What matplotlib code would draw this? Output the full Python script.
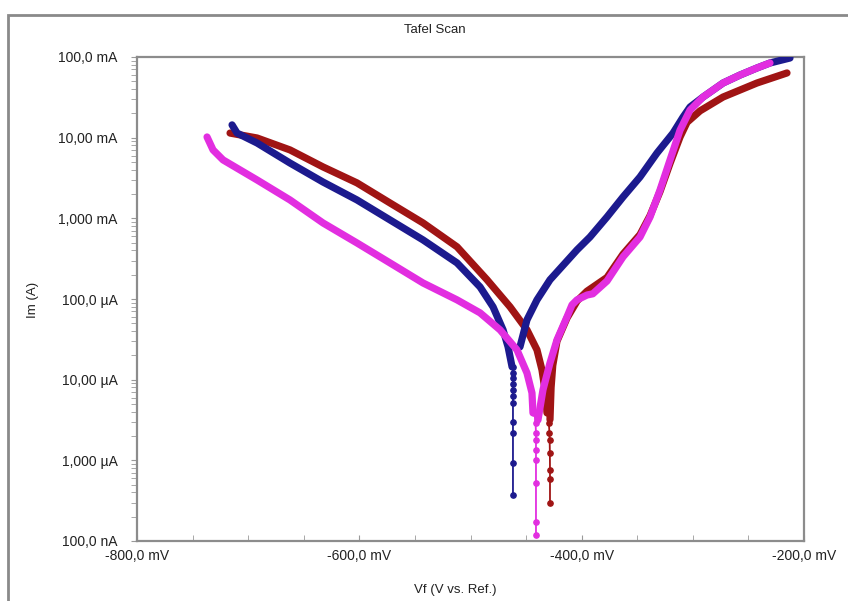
import matplotlib
matplotlib.use("Agg")
import matplotlib.pyplot as plt
from matplotlib.patches import Rectangle
from matplotlib.ticker import FixedLocator, MultipleLocator, LogLocator, NullFormatter
import numpy as np

plt.rcParams['font.family'] = ['Liberation Sans', 'DejaVu Sans']

# ---- data: potential in mV, current in A ----
# blue specimen
blue_cath_v = [-714.5, -710.0, -692.0, -662.4, -632.7, -602.1, -572.4, -542.7, -512.1,
               -491.4, -479.7, -470.7, -466.2, -462.6]
blue_cath_i = [1.44e-2, 1.14e-2, 8.59e-3, 4.85e-3, 2.82e-3, 1.69e-3, 9.55e-4, 5.40e-4, 2.80e-4,
               1.41e-4, 7.98e-5, 4.14e-5, 2.55e-5, 1.44e-5]
blue_tail_v = [-462.0, -461.8, -461.8, -461.8, -461.8, -461.8, -461.8, -461.8, -461.8, -461.8, -461.8]
blue_tail_i = [1.44e-5, 1.20e-5, 1.05e-5, 8.9e-6, 7.4e-6, 6.2e-6, 5.1e-6, 3.0e-6, 2.2e-6, 9.3e-7, 3.7e-7]
blue_anod_v = [-455.5, -449.2, -440.2, -428.5, -404.2, -392.5, -377.2, -362.8, -347.5, -332.2,
               -317.8, -308.8, -302.5, -290.8, -272.8, -257.5, -242.3, -230.6, -212.6]
blue_anod_i = [2.55e-5, 5.51e-5, 9.75e-5, 1.73e-4, 4.06e-4, 5.87e-4, 1.04e-3, 1.84e-3, 3.26e-3, 6.46e-3,
               1.14e-2, 1.80e-2, 2.40e-2, 3.19e-2, 4.76e-2, 5.98e-2, 7.31e-2, 8.43e-2, 9.72e-2]

# dark red specimen
red_cath_v = [-716.3, -692.0, -662.4, -632.7, -602.1, -572.4, -542.7, -512.1, -485.1,
              -464.4, -449.2, -440.2, -435.7, -433.0, -431.2]
red_cath_i = [1.14e-2, 9.91e-3, 7.05e-3, 4.34e-3, 2.75e-3, 1.55e-3, 8.77e-4, 4.43e-4, 1.73e-4,
              7.98e-5, 4.14e-5, 2.34e-5, 1.32e-5, 7.48e-6, 3.87e-6]
red_tail_v = [-430.5, -429.5, -429.0, -428.8, -428.6, -428.5, -428.5, -428.5]
red_tail_i = [3.87e-6, 2.9e-6, 2.2e-6, 1.8e-6, 1.23e-6, 7.6e-7, 5.8e-7, 2.95e-7]
red_anod_v = [-428.5, -427.5, -426.0, -422.2, -413.2, -404.0, -395.2, -377.2, -362.8, -347.5,
              -338.5, -329.5, -320.5, -311.5, -305.2, -293.5, -272.8, -242.3, -215.3]
red_anod_i = [3.2e-6, 8.0e-6, 1.5e-5, 3.0e-5, 5.8e-5, 9.5e-5, 1.25e-4, 1.85e-4, 3.6e-4, 6.3e-4,
              1.08e-3, 2.15e-3, 4.8e-3, 1.02e-2, 1.55e-2, 2.15e-2, 3.19e-2, 4.76e-2, 6.34e-2]

# magenta specimen
mag_cath_v = [-737.0, -731.6, -722.6, -692.0, -662.4, -632.7, -602.1, -572.4, -542.7, -512.1,
              -491.4, -473.4, -458.2, -449.2, -444.7, -443.8]
mag_cath_i = [1.02e-2, 7.05e-3, 5.30e-3, 2.99e-3, 1.69e-3, 8.77e-4, 4.95e-4, 2.80e-4, 1.58e-4, 9.75e-5,
              6.73e-5, 4.14e-5, 2.34e-5, 1.21e-5, 6.85e-6, 3.87e-6]
mag_tail_v = [-442.5, -441.5, -441.1, -441.1, -441.1, -441.1, -441.1, -441.1, -441.1]
mag_tail_i = [3.87e-6, 2.9e-6, 2.2e-6, 1.8e-6, 1.35e-6, 1.02e-6, 5.2e-7, 1.74e-7, 1.2e-7]
mag_anod_v = [-439.3, -434.8, -428.5, -422.2, -413.2, -408.7, -404.2, -395.2, -390.0, -377.2,
              -362.8, -347.5, -338.5, -329.5, -320.5, -311.5, -302.5, -290.8, -272.8, -257.5,
              -242.3, -230.6]
mag_anod_i = [3.16e-6, 7.48e-6, 1.61e-5, 3.11e-5, 6.00e-5, 8.45e-5, 9.75e-5, 1.12e-4, 1.16e-4, 1.67e-4,
              3.33e-4, 5.87e-4, 1.04e-3, 2.25e-3, 5.30e-3, 1.24e-2, 2.20e-2, 3.19e-2, 4.76e-2, 5.98e-2,
              7.31e-2, 8.43e-2]

x_ticks = [-800, -600, -400, -200]
x_tick_labels = ["-800,0 mV", "-600,0 mV", "-400,0 mV", "-200,0 mV"]
y_ticks = [1e-7, 1e-6, 1e-5, 1e-4, 1e-3, 1e-2, 1e-1]
y_tick_labels = ["100,0 nA", "1,000 µA", "10,00 µA", "100,0 µA", "1,000 mA", "10,00 mA", "100,0 mA"]

BLUE = "#1c1a8e"
RED = "#a01414"
MAGENTA = "#e22ee0"

fig = plt.figure(figsize=(8.48, 6.01), dpi=100)
fig.patch.set_facecolor("white")

# outer frame of the panel
fig.patches.append(Rectangle((8 / 848, -0.05), 1.0, (601 - 15) / 601 + 0.05,
                             transform=fig.transFigure, fill=False,
                             edgecolor="#8a8a8a", linewidth=2.0))

ax = fig.add_axes([137 / 848, 60 / 601, 667 / 848, 484 / 601])
ax.set_yscale("log")
ax.set_xlim(-800, -200)
ax.set_ylim(1e-7, 1e-1)

series = [
    (RED, red_cath_v, red_cath_i, red_tail_v, red_tail_i, red_anod_v, red_anod_i, 3),
    (BLUE, blue_cath_v, blue_cath_i, blue_tail_v, blue_tail_i, blue_anod_v, blue_anod_i, 4),
    (MAGENTA, mag_cath_v, mag_cath_i, mag_tail_v, mag_tail_i, mag_anod_v, mag_anod_i, 5),
]
for color, cv, ci, tv, ti, av, ai, z in series:
    ax.plot(tv, ti, color=color, lw=1.3, marker="o", ms=3.8, zorder=2)
    ax.plot(cv, ci, color=color, lw=5.2, solid_capstyle="round", solid_joinstyle="round", zorder=z)
    ax.plot(av, ai, color=color, lw=5.2, solid_capstyle="round", solid_joinstyle="round", zorder=z)

for s in ax.spines.values():
    s.set_color("#8c8c8c")
    s.set_linewidth(1.6)

ax.xaxis.set_major_locator(FixedLocator(x_ticks))
ax.set_xticklabels(x_tick_labels)
ax.xaxis.set_minor_locator(MultipleLocator(50))
ax.yaxis.set_major_locator(FixedLocator(y_ticks))
ax.set_yticklabels(y_tick_labels)
ax.yaxis.set_minor_locator(LogLocator(base=10, subs=np.arange(2, 10)))
ax.yaxis.set_minor_formatter(NullFormatter())

ax.tick_params(axis="x", which="both", direction="in", length=4, color="#9a9a9a",
               labelsize=10, labelcolor="#222222", pad=6)
ax.tick_params(axis="y", which="both", direction="out", length=4, color="#9a9a9a",
               labelsize=10, labelcolor="#222222", pad=10)

fig.text(435 / 848, 1 - 30 / 601, "Tafel Scan", ha="center", va="center",
         fontsize=9.5, color="#222222")
fig.text(33 / 848, 1 - 300 / 601, "Im (A)", ha="center", va="center",
         rotation=90, fontsize=9.5, color="#222222")
fig.text(455 / 848, 1 - 590 / 601, "Vf (V vs. Ref.)", ha="center", va="center",
         fontsize=9.5, color="#222222")

fig.savefig("out.png", dpi=100)
